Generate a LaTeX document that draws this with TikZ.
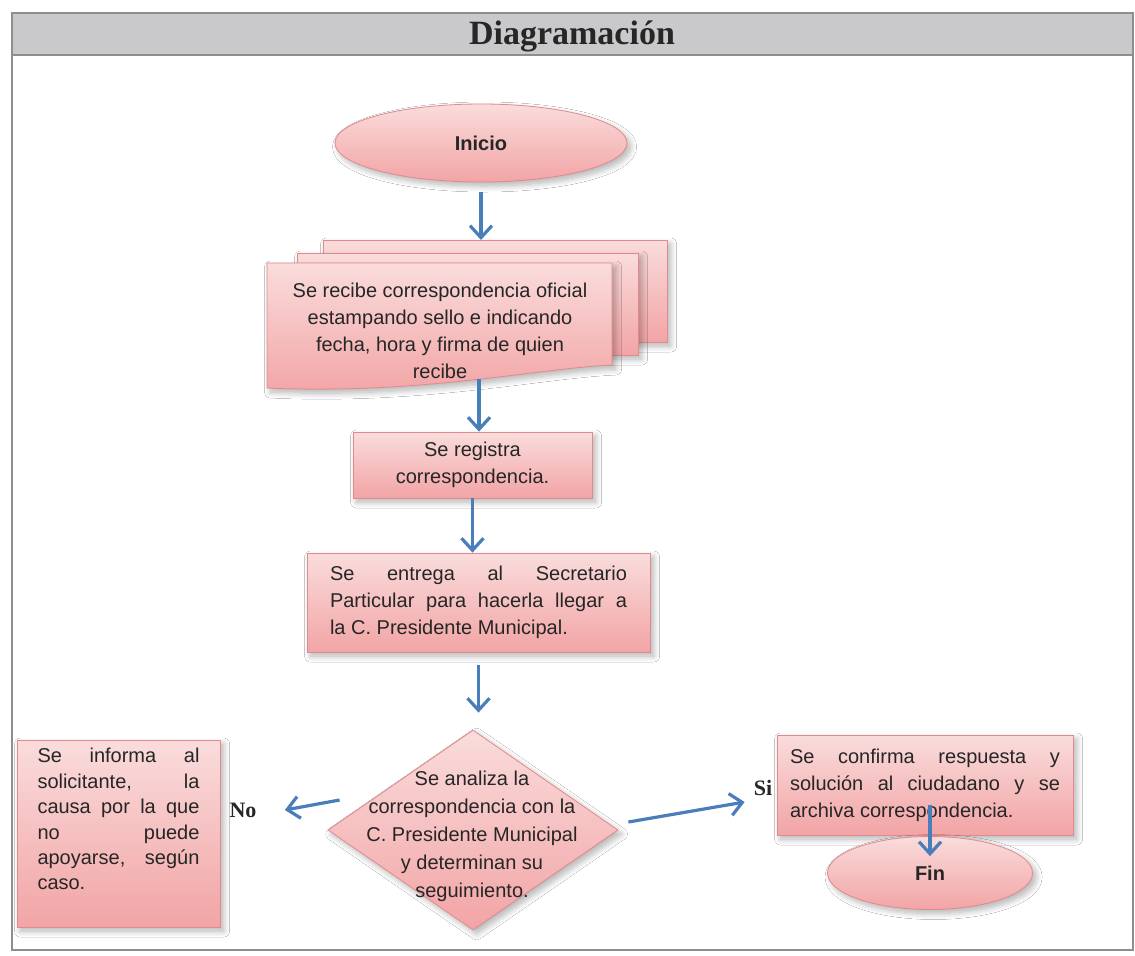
\documentclass[tikz,border=0pt]{standalone}
\usepackage{fontspec}
\setmainfont{Liberation Sans}
\newfontfamily\fuentetitulo{Liberation Serif}
\usepackage{xcolor}
\usepackage{tikz}
\usetikzlibrary{shapes.geometric,arrows.meta,shadows.blur}

\definecolor{rosaclaro}{HTML}{FADCDC}
\definecolor{rosa}{HTML}{F2A4A5}
\definecolor{borde}{HTML}{E2898D}
\definecolor{azul}{HTML}{4A7EBB}
\definecolor{gris}{HTML}{C9C9CB}
\definecolor{marco}{HTML}{8E8E8E}

\begin{document}
\begin{tikzpicture}[x=0.5pt,y=-0.5pt]
% Estilos (MODIFICABLES)
\tikzstyle{flecha}=[-{Straight Barb[length=6pt,width=11pt]},line width=1.6pt,draw=azul]
\tikzstyle{sombra}=[blur shadow={shadow xshift=1.8pt,shadow yshift=-2pt,shadow blur radius=3pt,shadow blur steps=10,shadow opacity=30}]
\tikzstyle{hoja}=[draw=borde,top color=rosaclaro,bottom color=rosa,sombra]
\tikzstyle{caja}=[rectangle,hoja,inner sep=0pt,text=black!85,font=\fontsize{10}{13.5}\selectfont]
\tikzstyle{terminal}=[ellipse,hoja,inner sep=0pt,text=black!85,font=\bfseries\fontsize{10}{12}\selectfont]
\tikzstyle{rombo}=[diamond,hoja,inner sep=0pt]
\tikzstyle{texto}=[inner sep=0pt,text=black!85,font=\fontsize{10}{13.5}\selectfont]
\tikzstyle{etiqueta}=[inner sep=0pt,text=black!85,font=\fuentetitulo\bfseries\fontsize{11}{13}\selectfont]
% Dimensiones (MODIFICABLES)
\def\Ancho{1135}
\def\Alto{955}
\useasboundingbox (0,0) rectangle (\Ancho,\Alto);
\fill[white] (0,0) rectangle (\Ancho,\Alto);
% Marco y titulo
\draw[marco,line width=0.9pt] (12,13) rectangle (1133,950);
\draw[marco,fill=gris,line width=1.1pt] (12,13) rectangle (1133,55);
\node[etiqueta,font=\fuentetitulo\bfseries\fontsize{17}{20}\selectfont] (Titulo) at (572,36) {Diagramación};
% Nodos
\node[terminal,minimum width=146pt,minimum height=39pt] (Inicio) at (481,143) {Inicio};
\draw[hoja] (323,240) rectangle (667,342);
\draw[hoja] (297,253) rectangle (638,355);
\draw[hoja] (267,263) -- (612,263) -- (612,365) .. controls (540,368) and (420,395) .. (267,388) -- cycle;
\coordinate (Pila) at (481,240);
\coordinate (Onda) at (479,379);
\node[texto,align=center] (Recibe) at (440,331) {Se recibe correspondencia oficial\\estampando sello e indicando\\fecha, hora y firma de quien\\recibe};
\node[caja,minimum width=119.5pt,minimum height=33pt,align=center] (Registra) at (472.5,465) {Se registra\\correspondencia.};
\node[caja,minimum width=171.5pt,minimum height=49.5pt,text width=148.5pt,align=justify] (Entrega) at (478.5,602.5)
  {Se entrega al Secretario\linebreak Particular para hacerla llegar a\linebreak la C. Presidente Municipal.};
\node[rombo,minimum width=145pt,minimum height=100pt] (Analiza) at (473,830) {};
\node[texto,align=center,font=\fontsize{10}{14}\selectfont] (AnalizaTexto) at (472,836)
  {Se analiza la\\correspondencia con la\\C. Presidente Municipal\\y determinan su\\seguimiento.};
\node[caja,minimum width=101.5pt,minimum height=93.5pt] (Informa) at (118.5,833.5) {};
\node[texto,anchor=north,text width=81pt,align=justify,font=\fontsize{10}{12.7}\selectfont] (InformaTexto) at (118.5,748)
  {Se informa al\linebreak solicitante, la\linebreak causa por la que\linebreak no puede\linebreak apoyarse, según\linebreak caso.};
\node[caja,minimum width=148pt,minimum height=50pt,text width=135pt,align=justify] (Confirma) at (925,785)
  {Se confirma respuesta y\linebreak solución al ciudadano y se\linebreak archiva correspondencia.};
\node[terminal,minimum width=102.5pt,minimum height=36.5pt] (Fin) at (930,873) {Fin};
\node[etiqueta] (No) at (243,810) {No};
\node[etiqueta] (Si) at (763,788) {Si};
% Flechas
\draw[flecha,shorten <=5pt] (Inicio) -- (Pila);
\draw[flecha] (Onda) -- (Onda |- Registra.north);
\draw[flecha] (Registra) -- (Registra |- Entrega.north);
\draw[flecha,shorten <=6.5pt,shorten >=8.5pt] (Entrega) -- (Entrega |- Analiza.north);
\draw[flecha] ([shift={(12,-30)}]Analiza.west) -- ([shift={(28,0)}]No.east);
\draw[flecha] ([shift={(10,-8)}]Analiza.east) -- ([shift={(-32,17)}]Confirma.west);
\draw[flecha] ([shift={(5,-30)}]Confirma.south) -- ([shift={(0,20)}]Fin.north);
\end{tikzpicture}
\end{document}
